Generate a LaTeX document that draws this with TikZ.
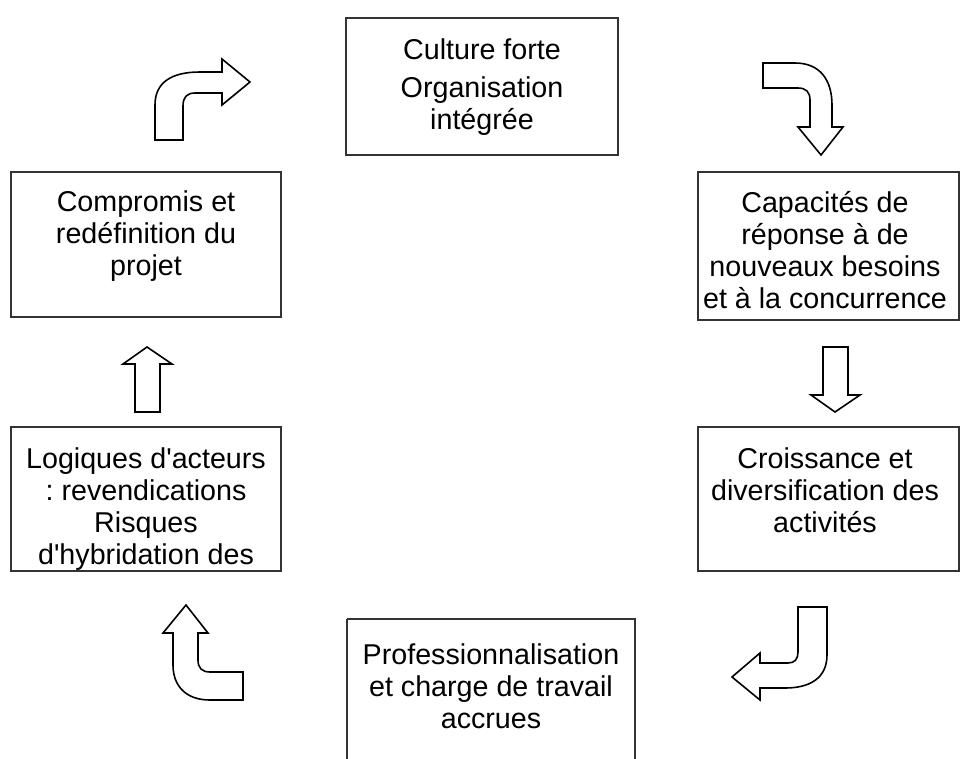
\documentclass[tikz,border=0pt]{standalone}
\usepackage{fontspec}
\setmainfont{Liberation Sans}
\frenchspacing
\begin{document}
\begin{tikzpicture}[x=0.75pt,y=-0.75pt,
  box/.style={draw=black!80,line width=1pt},
  txt/.style={anchor=north,align=center,inner sep=0pt,font=\fontsize{21.5}{24}\selectfont},
  blockarrow/.style={draw=black,fill=white,line width=1.2pt,line join=miter}]
\useasboundingbox (0,0) rectangle (961,758);
% boxes
\draw[box] (346,18) rectangle (618,155);
\draw[box] (698,172) rectangle (959,320);
\draw[box] (698,427) rectangle (959,571);
\draw[box] (347,619) -- (347,770) (347,619) -- (635,619) -- (635,770);
\draw[box] (11,172) rectangle (281,317);
\draw[box] (11,427) rectangle (281,571);
% texts
\node[txt] (t1) at (482,38) {Culture forte\\[4.5pt]Organisation\\intégrée};
\node[txt] (t2) at (825,191) {Capacités de\\réponse à de\\nouveaux besoins\\et à la concurrence};
\node[txt] (t3) at (825,447) {Croissance et\\diversification des\\activités};
\node[txt] (t4) at (491,643) {Professionnalisation\\et charge de travail\\accrues};
\node[txt] (t5) at (146,447) {Logiques d\textquotesingle acteurs\\: revendications\\Risques\\d\textquotesingle hybridation des};
\node[txt] (t6) at (146,190) {Compromis et\\redéfinition du\\projet};
% arrows
% top-left curved
\draw[blockarrow] (155,140) -- (155,105) .. controls (155,82) and (172,72) .. (200,72) -- (222,72) -- (222,59) -- (250,82) -- (222,105) -- (222,93) -- (195,93) .. controls (187,93) and (183,97) .. (183,106) -- (183,140) -- cycle;
% top-right curved
\draw[blockarrow] (763,63) -- (795,63) .. controls (820,63) and (832,80) .. (832,105) -- (832,127) -- (843,127) -- (821,155) -- (798,127) -- (810,127) -- (810,100) .. controls (810,92) and (806,88) .. (798,88) -- (763,88) -- cycle;
% straight down
\draw[blockarrow] (823,347) -- (848,347) -- (848,395) -- (860,395) -- (835,412) -- (811,395) -- (823,395) -- cycle;
% bottom-right curved
\draw[blockarrow] (798,607) -- (827,607) -- (827,655) .. controls (827,678) and (810,688) .. (785,688) -- (760,688) -- (760,700) -- (732,677) -- (760,653) -- (760,663) -- (788,663) .. controls (795,663) and (798,659) .. (798,652) -- cycle;
% bottom-left curved
\draw[blockarrow] (173,633) -- (163,633) -- (186,605) -- (208,633) -- (198,633) -- (198,660) .. controls (198,668) and (202,672) .. (210,672) -- (243,672) -- (243,700) -- (210,700) .. controls (185,700) and (173,685) .. (173,665) -- cycle;
% straight up
\draw[blockarrow] (135,412) -- (135,364) -- (123,364) -- (147,347) -- (172,364) -- (160,364) -- (160,412) -- cycle;
\end{tikzpicture}
\end{document}
